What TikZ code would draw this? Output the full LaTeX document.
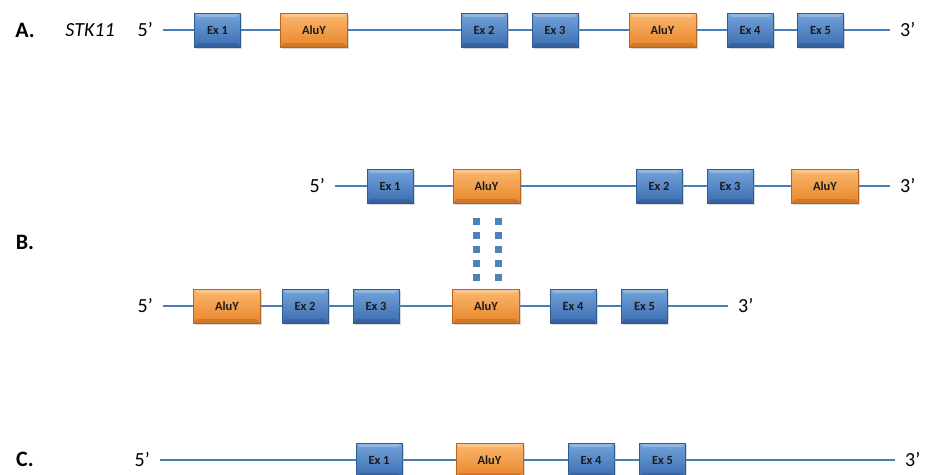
\documentclass[tikz,border=0pt]{standalone}
\usepackage{fontspec}
\setmainfont{Carlito}
\usepackage{tikz}
\usetikzlibrary{positioning, shadows}

\definecolor{extop}{HTML}{74A4DC}
\definecolor{exbot}{HTML}{3B6CB0}
\definecolor{exedge}{HTML}{2F5C8E}
\definecolor{alutop}{HTML}{FBB86F}
\definecolor{alubot}{HTML}{E9852B}
\definecolor{aluedge}{HTML}{B8661F}
\definecolor{strandblue}{HTML}{4A7EBB}
\definecolor{dotblue}{HTML}{4F81BD}
\definecolor{boxtext}{HTML}{1B1B1B}

\begin{document}
\begin{tikzpicture}[x=1pt, y=-1pt, node distance=71pt]
        \tikzstyle{exon}=[draw=exedge, rectangle, top color=extop, bottom color=exbot, minimum width=46pt, minimum height=34pt, inner sep=0pt, text=boxtext, font=\fontsize{12.5}{13}\selectfont\bfseries, drop shadow={opacity=.3, shadow xshift=1.5pt, shadow yshift=-2pt},
          path picture={\fill[white, opacity=.22] (path picture bounding box.north west) -- (path picture bounding box.north east) -- ([xshift=-4pt, yshift=-4pt]path picture bounding box.north east) -- ([xshift=4pt, yshift=-4pt]path picture bounding box.north west) -- cycle;
            \fill[black, opacity=.12] (path picture bounding box.south west) -- (path picture bounding box.south east) -- ([xshift=-4pt, yshift=4pt]path picture bounding box.south east) -- ([xshift=4pt, yshift=4pt]path picture bounding box.south west) -- cycle;}];
        \tikzstyle{alu}=[exon, draw=aluedge, top color=alutop, bottom color=alubot, minimum width=67pt];
        \tikzstyle{prime}=[inner xsep=10pt, inner ysep=0pt, font=\fontsize{20}{24}\selectfont];
        \tikzstyle{tag}=[font=\fontsize{22}{24}\selectfont\bfseries];
        \tikzstyle{strand}=[draw=strandblue, line width=1.8pt];
        \tikzstyle{linker}=[draw=dotblue, line width=7pt, dash pattern=on 7pt off 7pt, shorten <=15pt, shorten >=8pt];
        \useasboundingbox (0,0) rectangle (928,474);

        % A: STK11
        \node[tag] (labA) at (25,30) {A.};
        \node[font=\fontsize{20}{24}\selectfont\itshape] (gene) at (90,30) {STK11};
        \node[prime, anchor=east] (a5) at (163,30) {5’};
        \node[exon] (aex1) at (217.5,30) {Ex 1};
        \node[alu, right of=aex1, xshift=25.5] (aalu1) {AluY};
        \node[exon, right of=aalu1, xshift=99] (aex2) {Ex 2};
        \node[exon, right of=aex2] (aex3) {Ex 3};
        \node[alu, right of=aex3, xshift=36.5] (aalu2) {AluY};
        \node[exon, right of=aalu2, xshift=16.5] (aex4) {Ex 4};
        \node[exon, right of=aex4, xshift=-.5] (aex5) {Ex 5};
        \node[prime, anchor=west] (a3) at (890,30) {3’};

        % B: the two aligned copies
        \node[tag] (labB) at (25,242) {B.};
        \node[prime, anchor=east] (bt5) at (335,186) {5’};
        \node[exon] (btex1) at (390,186) {Ex 1};
        \node[alu, right of=btex1, xshift=25.5] (btalu1) {AluY};
        \node[exon, right of=btalu1, xshift=101.5] (btex2) {Ex 2};
        \node[exon, right of=btex2] (btex3) {Ex 3};
        \node[alu, right of=btex3, xshift=24] (btalu2) {AluY};
        \node[prime, anchor=west] (bt3) at (890,186) {3’};

        \node[prime, anchor=east] (bb5) at (163,306) {5’};
        \node[alu] (bbalu1) at (227,306) {AluY};
        \node[exon, right of=bbalu1, xshift=7] (bbex2) {Ex 2};
        \node[exon, right of=bbex2] (bbex3) {Ex 3};
        \node[alu, right of=bbex3, xshift=39] (bbalu2) {AluY};
        \node[exon, right of=bbalu2, xshift=16] (bbex4) {Ex 4};
        \node[exon, right of=bbex4, xshift=.5] (bbex5) {Ex 5};
        \node[prime, anchor=west] (bb3) at (728,306) {3’};

        % C: deleted allele
        \node[tag] (labC) at (25,459) {C.};
        \node[prime, anchor=east] (c5) at (160,460) {5’};
        \node[exon] (cex1) at (379,460) {Ex 1};
        \node[alu, right of=cex1, xshift=39.5] (calu) {AluY};
        \node[exon, right of=calu, xshift=30.5] (cex4) {Ex 4};
        \node[exon, right of=cex4, xshift=.5] (cex5) {Ex 5};
        \node[prime, anchor=west] (c3) at (895,460) {3’};

        \path[strand]
        (a5) edge (aex1) (aex1) edge (aalu1) (aalu1) edge (aex2) (aex2) edge (aex3)
        (aex3) edge (aalu2) (aalu2) edge (aex4) (aex4) edge (aex5) (aex5) edge (a3)
        (bt5) edge (btex1) (btex1) edge (btalu1) (btalu1) edge (btex2) (btex2) edge (btex3)
        (btex3) edge (btalu2) (btalu2) edge (bt3)
        (bb5) edge (bbalu1) (bbalu1) edge (bbex2) (bbex2) edge (bbex3) (bbex3) edge (bbalu2)
        (bbalu2) edge (bbex4) (bbex4) edge (bbex5) (bbex5) edge (bb3)
        (c5) edge (cex1) (cex1) edge (calu) (calu) edge (cex4) (cex4) edge (cex5) (cex5) edge (c3);

        \draw[linker] ([xshift=-10.5pt]btalu1.south) -- ([xshift=-10pt]bbalu2.north);
        \draw[linker] ([xshift=11.5pt]btalu1.south) -- ([xshift=12pt]bbalu2.north);
      \end{tikzpicture}
\end{document}
